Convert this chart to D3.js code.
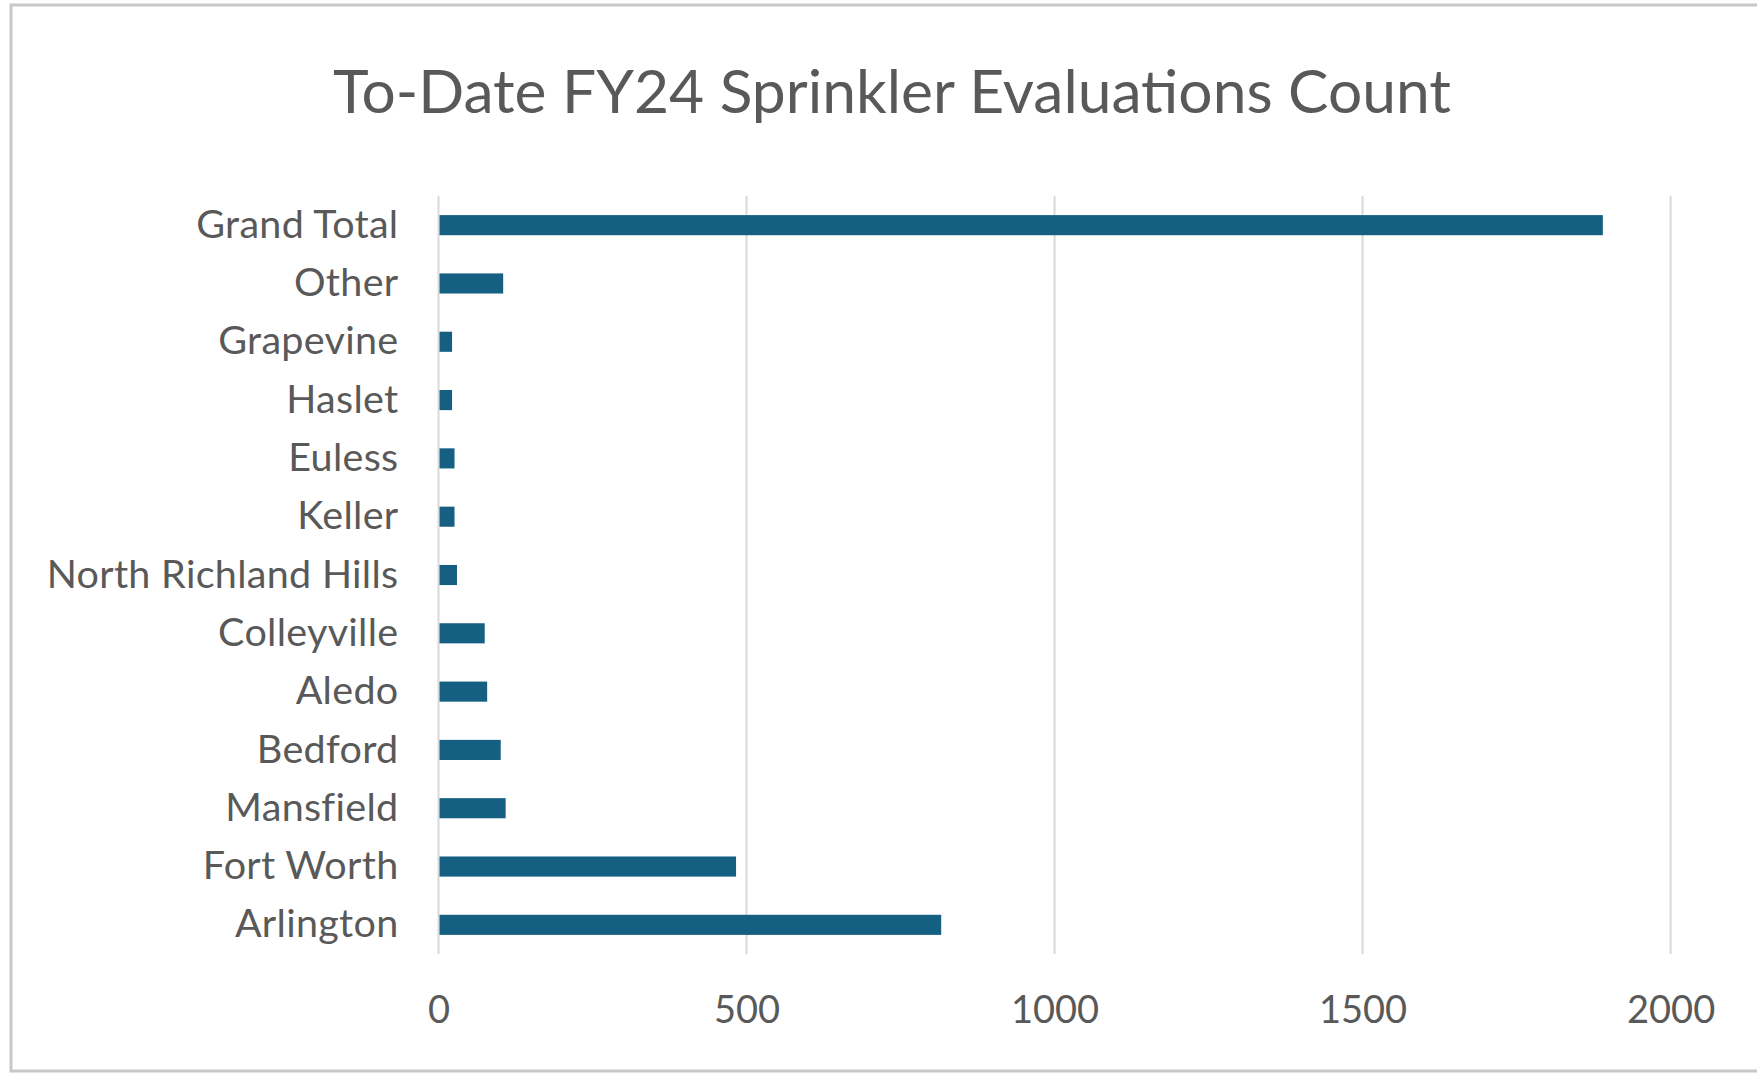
<!DOCTYPE html>
<html>
<head>
<meta charset="utf-8">
<script src="https://cdn.jsdelivr.net/npm/d3@7"></script>
<style>
  html, body { margin: 0; padding: 0; background: #ffffff; }
  svg { display: block; }
</style>
</head>
<body>
<script>
const categories = ["Grand Total", "Other", "Grapevine", "Haslet", "Euless", "Keller",
  "North Richland Hills", "Colleyville", "Aledo", "Bedford", "Mansfield", "Fort Worth", "Arlington"];
const counts = [1890, 105, 22, 22, 26, 26, 30, 75, 79, 101, 109, 483, 816];
const xTicks = [0, 500, 1000, 1500, 2000];
const title = "To-Date FY24 Sprinkler Evaluations Count";

const W = 1757, H = 1074;
const svg = d3.select("body").append("svg").attr("width", W).attr("height", H);
const font = "Lato, 'Open Sans', sans-serif";

// frame
svg.append("rect").attr("x", 11).attr("y", 5).attr("width", W + 20).attr("height", 1066)
  .attr("fill", "#ffffff").attr("stroke", "#c8c8c8").attr("stroke-width", 3);

const plot = { left: 438.5, right: 1670.6, top: 196, bottom: 954 };

const x = d3.scaleLinear().domain([0, 2000]).range([plot.left, plot.right]);
const y = d3.scaleBand().domain(categories).range([plot.top, plot.bottom]).paddingInner(0.655).paddingOuter(0.3275);

// gridlines
svg.append("g").selectAll("line").data(xTicks).join("line")
  .attr("x1", d => x(d)).attr("x2", d => x(d))
  .attr("y1", plot.top).attr("y2", plot.bottom)
  .attr("stroke", "#d9d9d9").attr("stroke-width", 2);

// bars
svg.append("g").selectAll("rect").data(categories).join("rect")
  .attr("x", x(0) + 1)
  .attr("y", d => y(d))
  .attr("width", (d, i) => x(counts[i]) - x(0) - 1)
  .attr("height", y.bandwidth())
  .attr("fill", "#156082");

// x axis labels
const xAxis = d3.axisBottom(x).tickValues(xTicks).tickFormat(d3.format("d")).tickSize(0).tickPadding(0);
const gx = svg.append("g").attr("transform", `translate(0, ${plot.bottom + 56})`).call(xAxis);
gx.select(".domain").remove();
gx.selectAll("text").attr("font-family", font).attr("font-size", 38).attr("fill", "#595959")
  .attr("dy", "0.35em");

// y axis labels
const yAxis = d3.axisLeft(y).tickSize(0).tickPadding(0);
const gy = svg.append("g").attr("transform", `translate(${plot.left - 40}, 0)`).call(yAxis);
gy.select(".domain").remove();
gy.selectAll("text").attr("font-family", font).attr("font-size", 39.5).attr("letter-spacing", "0.3px").attr("fill", "#595959");

// title
svg.append("text").attr("x", 892).attr("y", 113).attr("text-anchor", "middle")
  .attr("font-family", font).attr("font-size", 60.5).attr("fill", "#595959").text(title);
</script>
</body>
</html>
